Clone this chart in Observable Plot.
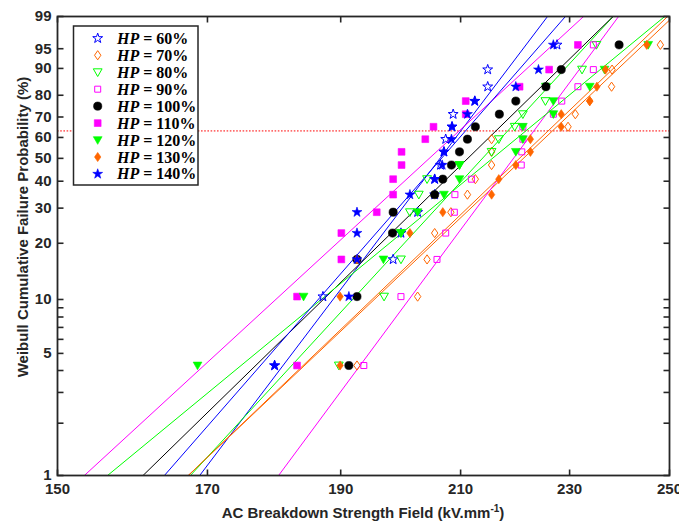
<!DOCTYPE html>
<html><head><meta charset="utf-8">
<script src="https://cdn.jsdelivr.net/npm/d3@7"></script>
<script src="https://cdn.jsdelivr.net/npm/@observablehq/plot@0.6"></script>
<style>
html,body{margin:0;padding:0;background:#fff;}
#chart{width:679px;height:524px;}
</style></head>
<body><div id="chart"></div>
<script>
// ---------------- data ----------------
const seriesLabels = ["60%","70%","80%","90%","100%","110%","120%","130%","140%"];
// plotting positions (failure probability, %) of the 16 ranked specimens
const failureProb = [4.27,10.37,16.46,22.56,28.66,34.76,40.85,46.95,53.05,59.15,65.24,71.34,77.44,83.54,89.63,95.73];
// AC breakdown strength (kV/mm), ranked, per humidity level
const hp60  = [179.8,187.2,198.5,199.8,202.6,205.5,205.5,206.5,207.1,207.4,208.5,208.7,212.5,214.8,214.8,227.6];
const hp70  = [192.6,202.6,204.2,205.5,208.3,211.2,212.6,215.5,215.5,215.5,229.7,231.1,233.9,238.2,238.3,248.1];
const hp80  = [189.7,197.0,199.8,199.8,201.3,202.8,204.2,209.8,215.5,216.8,219.7,221.2,225.4,225.5,232.4,235.2];
const hp90  = [193.7,199.8,205.9,207.4,208.9,209.0,211.9,220.9,221.0,221.2,221.2,226.9,228.5,231.6,234.6,234.6];
const hp100 = [191.3,192.6,192.6,198.4,198.5,205.5,206.9,208.4,209.8,211.2,212.6,216.9,219.9,225.5,228.4,239.7];
const hp110 = [183.2,183.2,190.1,190.1,195.8,198.5,198.5,199.9,199.9,203.9,205.3,210.9,210.9,220.6,226.1,231.6];
const hp120 = [168.6,184.2,196.9,199.8,202.6,207.1,209.8,209.8,219.9,221.2,221.2,226.9,226.9,233.9,236.8,245.6];
const hp130 = [189.9,189.9,192.6,201.3,206.9,215.5,216.8,219.9,222.6,222.6,228.4,228.4,233.9,235.3,237.0,245.3];
const hp140 = [179.8,191.3,192.6,192.6,192.6,201.3,205.5,206.8,207.1,208.4,208.5,211.2,212.5,219.9,224.1,226.9];
// Weibull fit lines: field at F = 1 % and at F = 99 %
const fitAt1  = [168.9,167.3,167.6,180.4,161.1,153.4,156.4,167.3,164.0];
const fitAt99 = [225.8,250.8,238.5,239.6,238.5,232.7,249.0,249.6,229.2];
const fitProbEnds = [1, 99];
const refProb = 63.2;
const xTicks = [150,170,190,210,230,250];
const yTicks = [1,2,3,4,5,6,7,8,9,10,20,30,40,50,60,70,80,90,95,99];
const yTickLabels = [1,5,10,20,30,40,50,60,70,80,90,95,99];
const xDomain = [150,250];
const yDomain = [1,99];
// ---------------------------------------------------------------

const seriesValues = [hp60,hp70,hp80,hp90,hp100,hp110,hp120,hp130,hp140];
const wb = p => Math.log(-Math.log(1 - p / 100));

// marker shapes
const symStar = {draw(c){const R=5.2,r=2.05;for(let k=0;k<10;k++){const a=-Math.PI/2+k*Math.PI/5,rr=k%2?r:R,x=rr*Math.cos(a),y=rr*Math.sin(a);k?c.lineTo(x,y):c.moveTo(x,y);}c.closePath();}};
const symDiamond = {draw(c){c.moveTo(0,-4.6);c.lineTo(3.2,0);c.lineTo(0,4.6);c.lineTo(-3.2,0);c.closePath();}};
const symTri = {draw(c){c.moveTo(-4.4,-3.4);c.lineTo(4.4,-3.4);c.lineTo(0,4.3);c.closePath();}};
const symSqOpen = {draw(c){c.rect(-3,-3,6,6);}};
const symSq = {draw(c){c.rect(-3.4,-3.4,6.8,6.8);}};
const symCircle = {draw(c){c.moveTo(4.1,0);c.arc(0,0,4.1,0,2*Math.PI);}};
const tickUp = {draw(c){c.moveTo(0,0);c.lineTo(0,-6);}};
const tickDown = {draw(c){c.moveTo(0,0);c.lineTo(0,6);}};
const tickRight = {draw(c){c.moveTo(0,0);c.lineTo(6,0);}};
const tickLeft = {draw(c){c.moveTo(0,0);c.lineTo(-6,0);}};

const BLUE="#0000ff", ORANGE="#ff6600", GREEN="#00ff00", MAGENTA="#ff00ff", BLACK="#000000";
const lineColors = [BLUE,ORANGE,GREEN,MAGENTA,BLACK,MAGENTA,GREEN,ORANGE,BLUE];
const markerStyles = [
  {symbol:symStar, fill:"none", stroke:BLUE, strokeWidth:1},
  {symbol:symDiamond, fill:"none", stroke:ORANGE, strokeWidth:1},
  {symbol:symTri, fill:"none", stroke:GREEN, strokeWidth:1},
  {symbol:symSqOpen, fill:"none", stroke:MAGENTA, strokeWidth:1},
  {symbol:symCircle, fill:BLACK, stroke:BLACK, strokeWidth:0.6},
  {symbol:symSq, fill:MAGENTA, stroke:MAGENTA, strokeWidth:0.6},
  {symbol:symTri, fill:GREEN, stroke:GREEN, strokeWidth:0.6},
  {symbol:symDiamond, fill:ORANGE, stroke:ORANGE, strokeWidth:0.6},
  {symbol:symStar, fill:BLUE, stroke:BLUE, strokeWidth:0.6}
];
const AX = "#262626";

const lineMarks = seriesLabels.map((s,i) =>
  Plot.line(fitProbEnds.map((p,j) => ({x: j ? fitAt99[i] : fitAt1[i], p})),
    {x:"x", y: d => wb(d.p), stroke: lineColors[i], strokeWidth: 1, clip: true}));
const dotMarks = seriesLabels.map((s,i) =>
  Plot.dot(seriesValues[i].map((v,k) => ({x:v, p: failureProb[k]})),
    {x:"x", y: d => wb(d.p), ...markerStyles[i]}));

const svg = Plot.plot({
  width: 679, height: 524,
  marginLeft: 57, marginRight: 10, marginTop: 16, marginBottom: 49,
  x: {type:"log", domain: xDomain},
  y: {type:"linear", domain: yDomain.map(wb)},
  style: {fontFamily:"'Liberation Sans', Arial, sans-serif", background:"#fff", color: AX},
  marks: [
    Plot.ruleY([refProb], {y: d => wb(d), stroke:"#ff0000", strokeWidth:1, strokeDasharray:"1.6,1.6"}),
    ...lineMarks,
    ...dotMarks,
    Plot.dot(xTicks, {x: d=>d, frameAnchor:"bottom", symbol: tickUp, fill:"none", stroke: AX, strokeWidth: 1.6}),
    Plot.dot(xTicks, {x: d=>d, frameAnchor:"top", symbol: tickDown, fill:"none", stroke: AX, strokeWidth: 1.6}),
    Plot.dot(yTicks, {y: d=>wb(d), frameAnchor:"left", symbol: tickRight, fill:"none", stroke: AX, strokeWidth: 1.6}),
    Plot.dot(yTicks, {y: d=>wb(d), frameAnchor:"right", symbol: tickLeft, fill:"none", stroke: AX, strokeWidth: 1.6}),
    Plot.frame({stroke: AX, strokeWidth: 1.8}),
    Plot.axisX(xTicks, {tickSize: 0, tickPadding: 8, fontSize: 15, fontWeight: "bold", fill: AX, label: null, tickFormat: d => String(d)}),
    Plot.axisY(yTickLabels.map(wb), {tickSize: 0, tickPadding: 6, fontSize: 15, fontWeight: "bold", fill: AX, label: null,
      tickFormat: v => String(Math.round(100 * (1 - Math.exp(-Math.exp(v)))))}),
    Plot.text(["Weibull Cumulative Failure Probability (%)"], {frameAnchor:"left", rotate:-90, dx:-34, dy:-19, textAnchor:"middle", fontSize:15, fontWeight:"bold", fill: AX})
  ]
});
document.getElementById("chart").appendChild(svg);

const sel = d3.select(svg);
// x-axis title with superscript
const xt = sel.append("text").attr("x", 363).attr("y", 518).attr("text-anchor","middle")
  .attr("font-family","'Liberation Sans', Arial, sans-serif").attr("font-size",15).attr("font-weight","bold").attr("fill",AX);
xt.append("tspan").text("AC Breakdown Strength Field (kV.mm");
xt.append("tspan").attr("dy",-6).attr("font-size",10).text("-1");
xt.append("tspan").attr("dy",6).text(")");

// legend
const lg = sel.append("g");
lg.append("rect").attr("x",73.5).attr("y",26).attr("width",124.5).attr("height",159)
  .attr("fill","#fff").attr("stroke",AX).attr("stroke-width",1.5);
seriesLabels.forEach((s,i) => {
  const cy = 38.3 + i * 16.96;
  const p = d3.path(); markerStyles[i].symbol.draw(p);
  lg.append("path").attr("d", p.toString()).attr("transform", `translate(97.7,${cy})`)
    .attr("fill", markerStyles[i].fill).attr("stroke", markerStyles[i].stroke).attr("stroke-width", markerStyles[i].strokeWidth);
  const t = lg.append("text").attr("x",117).attr("y",cy+5.5).attr("text-anchor","start")
    .attr("font-family","'Liberation Serif','Times New Roman',serif").attr("font-size",16).attr("font-weight","bold").attr("fill","#000");
  t.append("tspan").attr("font-style","italic").text("HP");
  t.append("tspan").text(" = " + s);
});
</script>
</body></html>
